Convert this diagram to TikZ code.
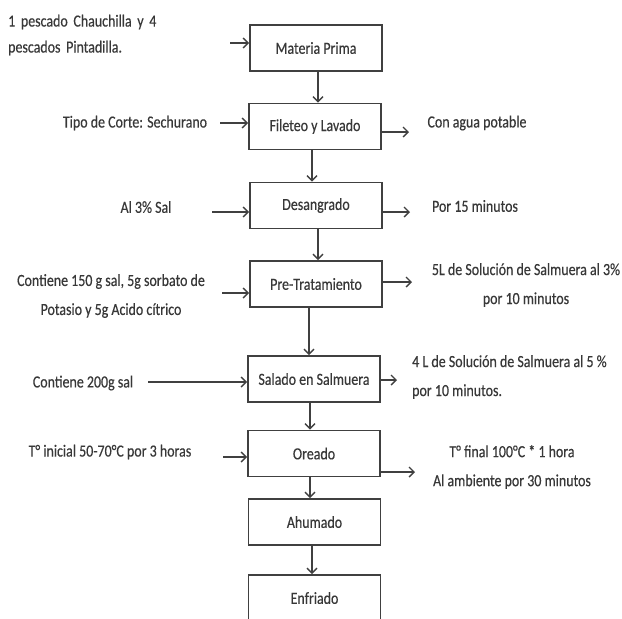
\documentclass[tikz,border=0pt]{standalone}
\usepackage{fontspec}
\setmainfont{Carlito}[FakeStretch=0.82,FakeBold=0.35]
\usetikzlibrary{arrows.meta}
\definecolor{ink}{HTML}{383838}
\definecolor{edge}{HTML}{404040}
\begin{document}
\begin{tikzpicture}[x=1pt,y=-1pt,
  box/.style={draw=edge,line width=1.7pt,minimum width=132pt,minimum height=46pt,inner sep=0pt,font=\fontsize{17}{20}\selectfont,text=ink},
  lbl/.style={inner sep=0pt,font=\fontsize{17}{29}\selectfont,text=ink,align=center},
  arr/.style={draw=edge,line width=1.4pt,-{Straight Barb[length=5pt,width=10pt]}}]
\useasboundingbox (0,0) rectangle (622,619);
\fill[white] (0,0) rectangle (622,619);

% process boxes
\node[box] (mp)  at (316,48)    {Materia Prima};
\node[box] (fil) at (315,126.5) {Fileteo y Lavado};
\node[box] (des) at (316,205.5) {Desangrado};
\node[box] (pre) at (316,284)   {Pre-Tratamiento};
\node[box] (sal) at (314,379)   {Salado en Salmuera};
\node[box] (ore) at (314,453.5) {Oreado};
\node[box] (ahu) at (314.5,522) {Ahumado};
\node[box] (enf) at (314.5,598) {Enfriado};

% vertical flow
\draw[arr] ([xshift=2pt]mp.south)  -- ([xshift=2pt]mp.south |- fil.north);
\draw[arr] ([xshift=-3pt]fil.south) -- ([xshift=-3pt]fil.south |- des.north);
\draw[arr] ([xshift=2pt]des.south) -- ([xshift=2pt]des.south |- pre.north);
\draw[arr] ([xshift=-7pt]pre.south) -- ([xshift=-7pt]pre.south |- sal.north);
\draw[arr] ([xshift=-4pt]sal.south) -- ([xshift=-4pt]sal.south |- ore.north);
\draw[arr] ([xshift=-4pt]ore.south) -- ([xshift=-4pt]ore.south |- ahu.north);
\draw[arr] ([xshift=-2.5pt]ahu.south) -- ([xshift=-2.5pt]ahu.south |- enf.north);

% left inputs
\node[inner sep=0pt,anchor=west,align=left,text width=214pt,text=ink,font=\fontsize{17}{26}\selectfont] (top) at (8,35)
  {\noindent\makebox[214pt][s]{1 pescado Chauchilla y 4}\\pescados Pintadilla.};
\node[lbl] (tipo) at (135,123) {Tipo de Corte: Sechurano};
\node[lbl] (sal3) at (146,207) {Al 3\% Sal};
\node[lbl] (c150) at (111,296) {Contiene 150 g sal, 5g sorbato de\\Potasio y 5g Acido cítrico};
\node[lbl] (c200) at (83,383)  {Contiene 200g sal};
\node[lbl] (tini) at (110,452) {T° inicial 50-70°C por 3 horas};

\coordinate (l1) at (230,43);
\coordinate (l2) at (220,123);
\coordinate (l3) at (212,212);
\coordinate (l4) at (222,293);
\coordinate (l5) at (148,382);
\coordinate (l6) at (223,457);
\draw[arr] (l1) -- (l1 -| mp.west);
\draw[arr] (l2) -- (l2 -| fil.west);
\draw[arr] (l3) -- (l3 -| des.west);
\draw[arr] (l4) -- (l4 -| pre.west);
\draw[arr] (l5) -- (l5 -| sal.west);
\draw[arr] (l6) -- (l6 -| ore.west);

% right outputs
\node[lbl] (agua) at (477,123) {Con agua potable};
\node[lbl] (m15)  at (475,206) {Por 15 minutos};
\node[lbl] (sol3) at (526,285) {5L de Solución de Salmuera al 3\%\\por 10 minutos};
\node[lbl,align=left,anchor=west] (sol5) at (412,377) {4 L de Solución de Salmuera al 5 \%\\por 10 minutos.};
\node[lbl] (tfin) at (512,467) {T° final 100°C * 1 hora\\Al ambiente por 30 minutos};

\coordinate (r2) at (409,132);
\coordinate (r3) at (410,212);
\coordinate (r4) at (412,282);
\coordinate (r5) at (397,380);
\coordinate (r6) at (415,472);
\draw[arr] (r2 -| fil.east) -- (r2);
\draw[arr] (r3 -| des.east) -- (r3);
\draw[arr] (r4 -| pre.east) -- (r4);
\draw[arr] (r5 -| sal.east) -- (r5);
\draw[arr] (r6 -| ore.east) -- (r6);
\end{tikzpicture}
\end{document}
